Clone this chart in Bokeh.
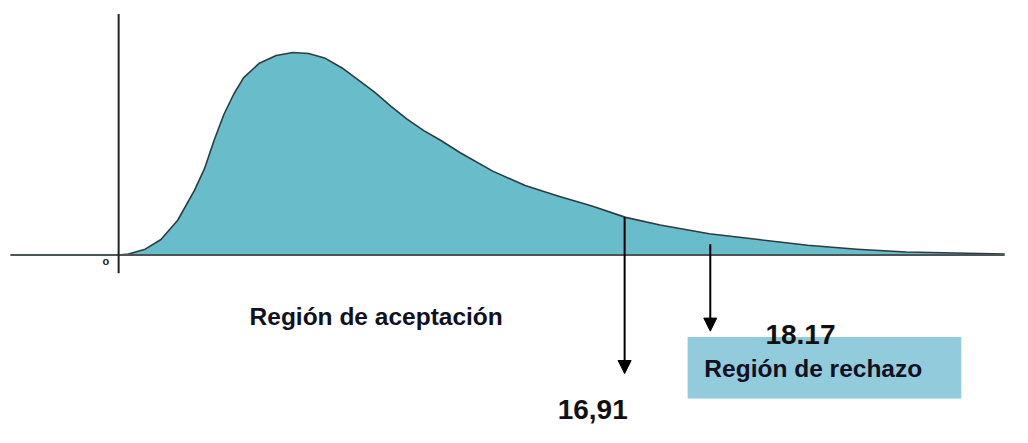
from bokeh.plotting import figure
from bokeh.models import Range1d, Arrow, NormalHead, ColumnDataSource
from bokeh.core.properties import value
from bokeh.embed import file_html
from bokeh.resources import INLINE

# Density curve (x offset from origin, height above baseline)
curve_x = [0, 10, 27, 43, 60, 77, 87, 97, 107, 117, 127, 143, 160, 177, 193, 210,
           227, 243, 260, 277, 293, 310, 327, 347, 380, 413, 447, 480, 515, 550,
           600, 650, 700, 750, 800, 850, 900]
curve_y = [0, 1, 6, 16, 36, 67, 89, 119, 146, 167, 184, 199, 207, 210, 209, 204,
           194, 182, 169, 154, 141, 129, 119, 106, 87, 72, 61, 51, 39, 31,
           22, 16, 10, 6, 3, 2, 1]

# Critical values (labels) and where their arrows stand on the x scale
crit_labels = ["16,91", "18.17"]
crit_x = [514, 601]
crit_top = [39, 11]
crit_tip = [-123, -79]

region_labels = ["Región de aceptación", "Región de rechazo"]

p = figure(width=1012, height=427, output_backend="svg", toolbar_location=None,
           x_range=Range1d(-120, 908), y_range=Range1d(-179, 264),
           min_border=0, min_border_left=0, min_border_right=0,
           min_border_top=0, min_border_bottom=0)
p.axis.visible = False
p.grid.visible = False
p.outline_line_color = None
p.background_fill_color = "white"
p.border_fill_color = "white"

src = ColumnDataSource(dict(x=curve_x, y=curve_y, z=[0] * len(curve_x)))
p.varea(x="x", y1="z", y2="y", source=src, fill_color="#69bcc9")
p.line(x="x", y="y", source=src, line_color="#2e3c40", line_width=1.6,
       line_join="round")

# axes lines
p.segment(x0=[-110], y0=[0], x1=[900], y1=[0], line_color="#4a5558", line_width=2)
p.segment(x0=[0], y0=[250], x1=[0], y1=[-19], line_color="#222222", line_width=2)
p.text(x=[-13], y=[-6], text=["o"], text_font=value("Liberation Sans"),
       text_font_style="bold", text_font_size="11px", text_align="center",
       text_baseline="middle", text_color="#222222")

# arrows
for xc, yt, yb in zip(crit_x, crit_top, crit_tip):
    p.add_layout(Arrow(end=NormalHead(size=13, fill_color="black", line_color="black"),
                       x_start=xc, y_start=yt, x_end=xc, y_end=yb,
                       line_width=2, line_color="black"))

# rejection box
p.quad(left=[578], right=[856], top=[-85], bottom=[-149],
       fill_color="#92cbdc", line_color=None)

font = value("Liberation Sans")
p.text(x=[133], y=[-64], text=[region_labels[0]], text_font=font,
       text_font_style="bold", text_font_size="24.5px", text_baseline="alphabetic",
       text_color="#111122")
p.text(x=[595], y=[-118], text=[region_labels[1]], text_font=font,
       text_font_style="bold", text_font_size="24.5px", text_baseline="alphabetic",
       text_color="#111122")
p.text(x=[446, 657], y=[-160, -83], text=crit_labels, text_font=font,
       text_font_style="bold", text_font_size="28px", text_baseline="alphabetic",
       text_color="#111111")

open("out.html", "w").write(file_html(p, INLINE))
